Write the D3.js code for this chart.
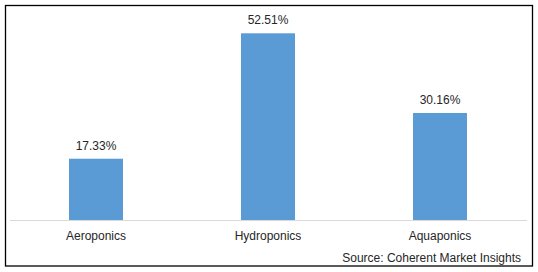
<!DOCTYPE html>
<html>
<head>
<meta charset="utf-8">
<script src="https://cdn.jsdelivr.net/npm/d3@7"></script>
<style>
  body { margin: 0; background: #fff; }
  svg text { font-family: "Liberation Sans", Arial, sans-serif; font-size: 12px; fill: #262626; }
</style>
</head>
<body>
<div id="chart"></div>
<script>
let categories = ['Aeroponics', 'Hydroponics', 'Aquaponics']
let shares = [17.33, 52.51, 30.16]
let source_text = 'Source: Coherent Market Insights'

let svgWidth = 538
let svgHeight = 272

let svg = d3.select('#chart').append('svg')
    .attr('width', svgWidth)
    .attr('height', svgHeight)

// outer frame
svg.append('rect')
    .attr('x', 5.5)
    .attr('y', 5.5)
    .attr('width', 527)
    .attr('height', 260.5)
    .attr('fill', 'none')
    .attr('stroke', '#000')
    .attr('stroke-width', 1.3)

let x = d3.scaleBand()
    .domain(categories)
    .range([10, 526])
    .paddingInner(0)
let barWidth = 54

let y = d3.scaleLinear()
    .domain([0, 60])
    .range([220.5, 6.6])

svg.append('g')
    .selectAll('rect')
    .data(shares)
    .enter()
    .append('rect')
    .attr('x', (d, i) => x(categories[i]) + x.bandwidth() / 2 - barWidth / 2)
    .attr('y', d => y(d))
    .attr('width', barWidth)
    .attr('height', d => y(0) - y(d))
    .attr('fill', '#5b9bd5')

// value labels
svg.append('g')
    .selectAll('text')
    .data(shares)
    .enter()
    .append('text')
    .attr('x', (d, i) => x(categories[i]) + x.bandwidth() / 2)
    .attr('y', d => y(d) - 9)
    .attr('text-anchor', 'middle')
    .text(d => d.toFixed(2) + '%')

// x axis
let axis_x = d3.axisBottom(x).tickSize(0).tickPadding(11)
let gx = svg.append('g')
    .attr('transform', `translate(0, ${y(0)})`)
    .call(axis_x)
gx.select('.domain').attr('stroke', '#d9d9d9').attr('d', 'M10,0H527')
gx.selectAll('text')
    .attr('font-family', '"Liberation Sans", Arial, sans-serif')
    .attr('font-size', '12px')
    .attr('fill', '#262626')

svg.append('text')
    .attr('x', 521)
    .attr('y', 262)
    .attr('text-anchor', 'end')
    .text(source_text)
</script>
</body>
</html>
